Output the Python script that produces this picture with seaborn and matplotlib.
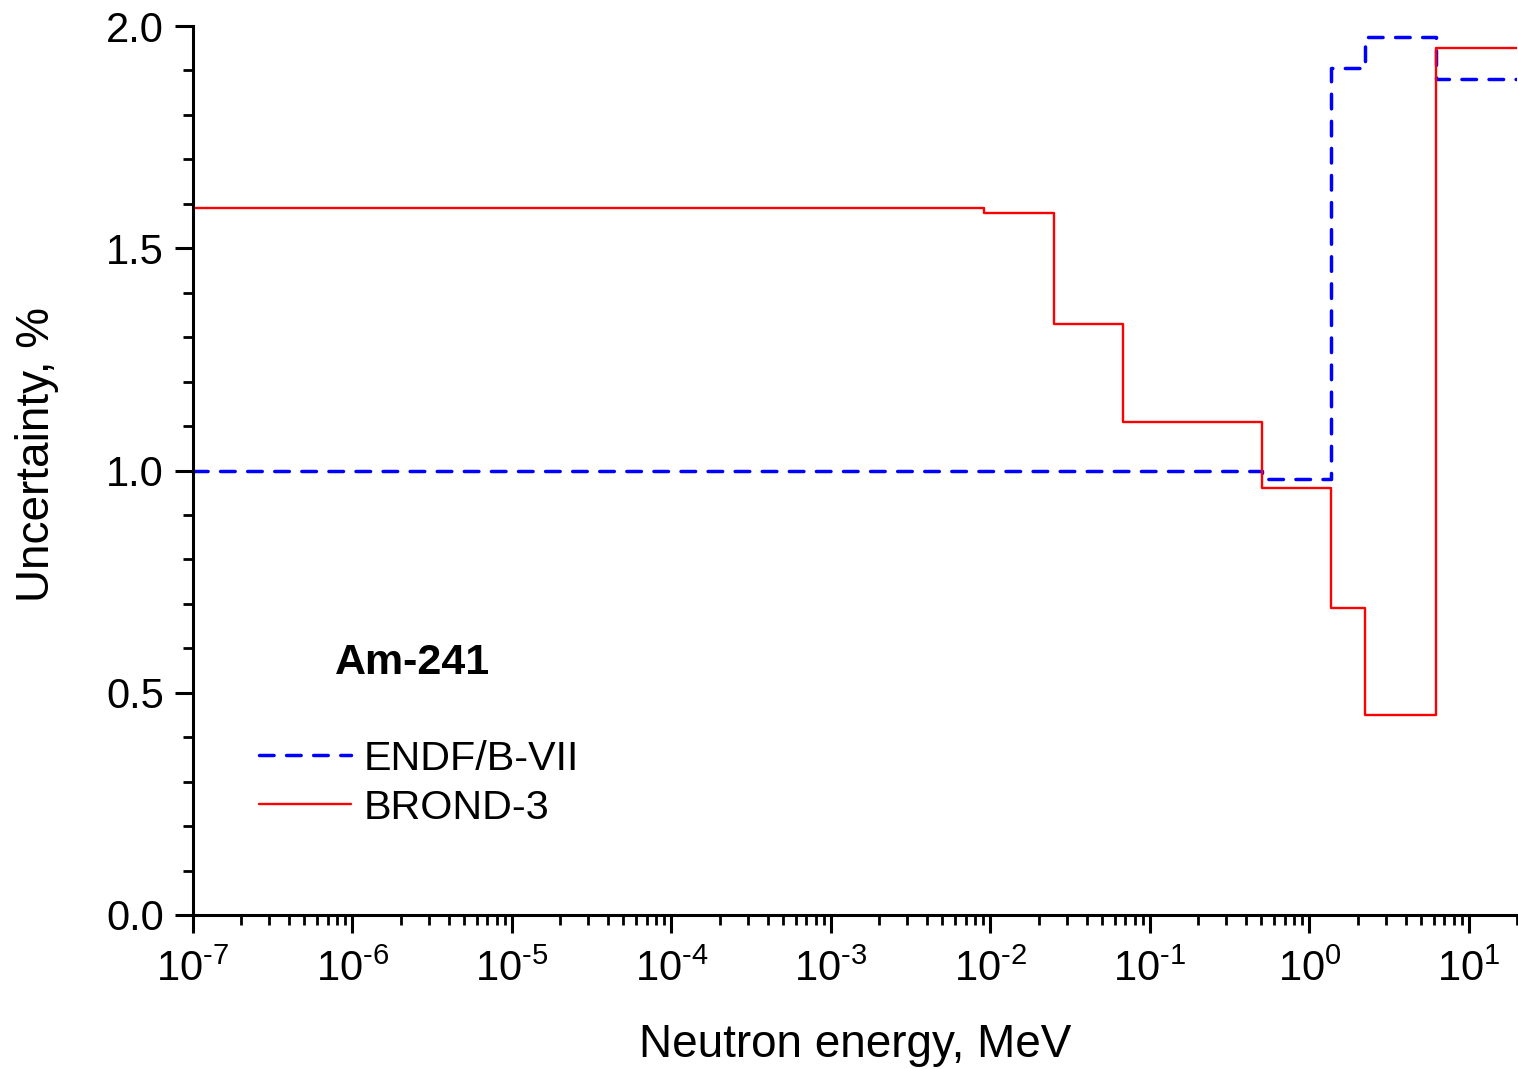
import numpy as np
import pandas as pd
import matplotlib
matplotlib.use("Agg")
import matplotlib.pyplot as plt
from matplotlib.ticker import (LogLocator, FixedLocator, MultipleLocator, FuncFormatter,
                               NullFormatter, FormatStrFormatter)
from matplotlib.lines import Line2D
import seaborn as sns

# Group boundaries (MeV) and relative uncertainties (%) for each evaluation
endf_edges = [1e-7, 0.505, 1.37, 2.24, 6.2, 20.0]
endf_unc = [1.00, 0.98, 1.905, 1.975, 1.88]

brond_edges = [1e-7, 0.00906, 0.0249, 0.0676, 0.505, 1.37, 2.24, 6.2, 20.0]
brond_unc = [1.59, 1.58, 1.33, 1.11, 0.96, 0.69, 0.45, 1.95]

series_names = ["ENDF/B-VII", "BROND-3"]
nuclide = "Am-241"
decade_exponents = [-7, -6, -5, -4, -3, -2, -1, 0, 1]


def step_frame(edges, values, name):
    # repeat the last value so the final group reaches the upper edge
    return pd.DataFrame({
        "energy": edges,
        "unc": list(values) + [values[-1]],
        "library": name,
    })


df = pd.concat([
    step_frame(endf_edges, endf_unc, series_names[0]),
    step_frame(brond_edges, brond_unc, series_names[1]),
], ignore_index=True)

sns.set_style("white")
plt.rcParams["font.family"] = ["Liberation Sans", "DejaVu Sans"]
plt.rcParams["mathtext.fontset"] = "custom"
plt.rcParams["mathtext.rm"] = "Liberation Sans"
plt.rcParams["mathtext.it"] = "Liberation Sans:italic"
plt.rcParams["mathtext.bf"] = "Liberation Sans:bold"
for key in ["text.color", "axes.labelcolor", "xtick.color", "ytick.color"]:
    plt.rcParams[key] = "black"

BLUE, RED = "#0000ff", "#ff0000"
DASH = (4.2, 3.6)

fig = plt.figure(figsize=(15.18, 10.69), dpi=100)
ax = fig.add_axes([193 / 1518, 1 - 915 / 1069, (1517 - 193) / 1518, (915 - 26) / 1069])

sns.lineplot(data=df, x="energy", y="unc", hue="library",
             palette={series_names[0]: BLUE, series_names[1]: RED},
             style="library",
             dashes={series_names[0]: DASH, series_names[1]: ""},
             drawstyle="steps-post", estimator=None, sort=False,
             ax=ax, legend=False)
for line, lw in zip(ax.get_lines(), [2.5, 1.7]):
    line.set_linewidth(lw)
    line.set_solid_capstyle("butt")
    line.set_dash_capstyle("round")

ax.set_xscale("log")
ax.set_xlim(1e-7, 20)
ax.set_ylim(0, 2.0)


def decade_label(val, pos):
    exp = int(round(np.log10(val)))
    return r"10$^{\text{%d}}$" % exp


ax.xaxis.set_major_locator(FixedLocator([10.0 ** e for e in decade_exponents]))
ax.xaxis.set_minor_locator(LogLocator(base=10, subs=np.arange(2, 10), numticks=100))
ax.xaxis.set_major_formatter(FuncFormatter(decade_label))
ax.xaxis.set_minor_formatter(NullFormatter())
ax.yaxis.set_major_locator(MultipleLocator(0.5))
ax.yaxis.set_minor_locator(MultipleLocator(0.1))
ax.yaxis.set_major_formatter(FormatStrFormatter("%.1f"))

for side in ["top", "right"]:
    ax.spines[side].set_visible(False)
for side in ["left", "bottom"]:
    ax.spines[side].set_linewidth(2.2)
    ax.spines[side].set_color("black")

ax.tick_params(axis="x", which="major", pad=12)
ax.tick_params(axis="y", which="major", pad=8)
ax.tick_params(which="major", direction="out", length=13, width=2.2,
               labelsize=30, color="black", bottom=True, left=True)
ax.tick_params(which="minor", direction="out", length=7, width=2.0,
               color="black", bottom=True, left=True)

ax.set_xlabel("Neutron energy, MeV", fontsize=33, labelpad=24)
ax.set_ylabel("Uncertainty, %", fontsize=33, labelpad=34)
ax.yaxis.label.set_y((915 - 455) / 889)

fig.text(335 / 1518, 1 - 663 / 1069, nuclide, fontsize=31, fontweight="bold",
         ha="left", va="center")

handles = [
    Line2D([], [], color=BLUE, lw=2.5, dashes=DASH, dash_capstyle="round"),
    Line2D([], [], color=RED, lw=1.7),
]
fig.legend(handles, series_names, loc="upper left",
           bbox_to_anchor=(238 / 1518, 1 - 719 / 1069),
           frameon=False, fontsize=29.7, handlelength=2.25,
           handletextpad=0.3, labelspacing=0.27, borderpad=0)

fig.savefig("out.png", dpi=100, facecolor="white")
